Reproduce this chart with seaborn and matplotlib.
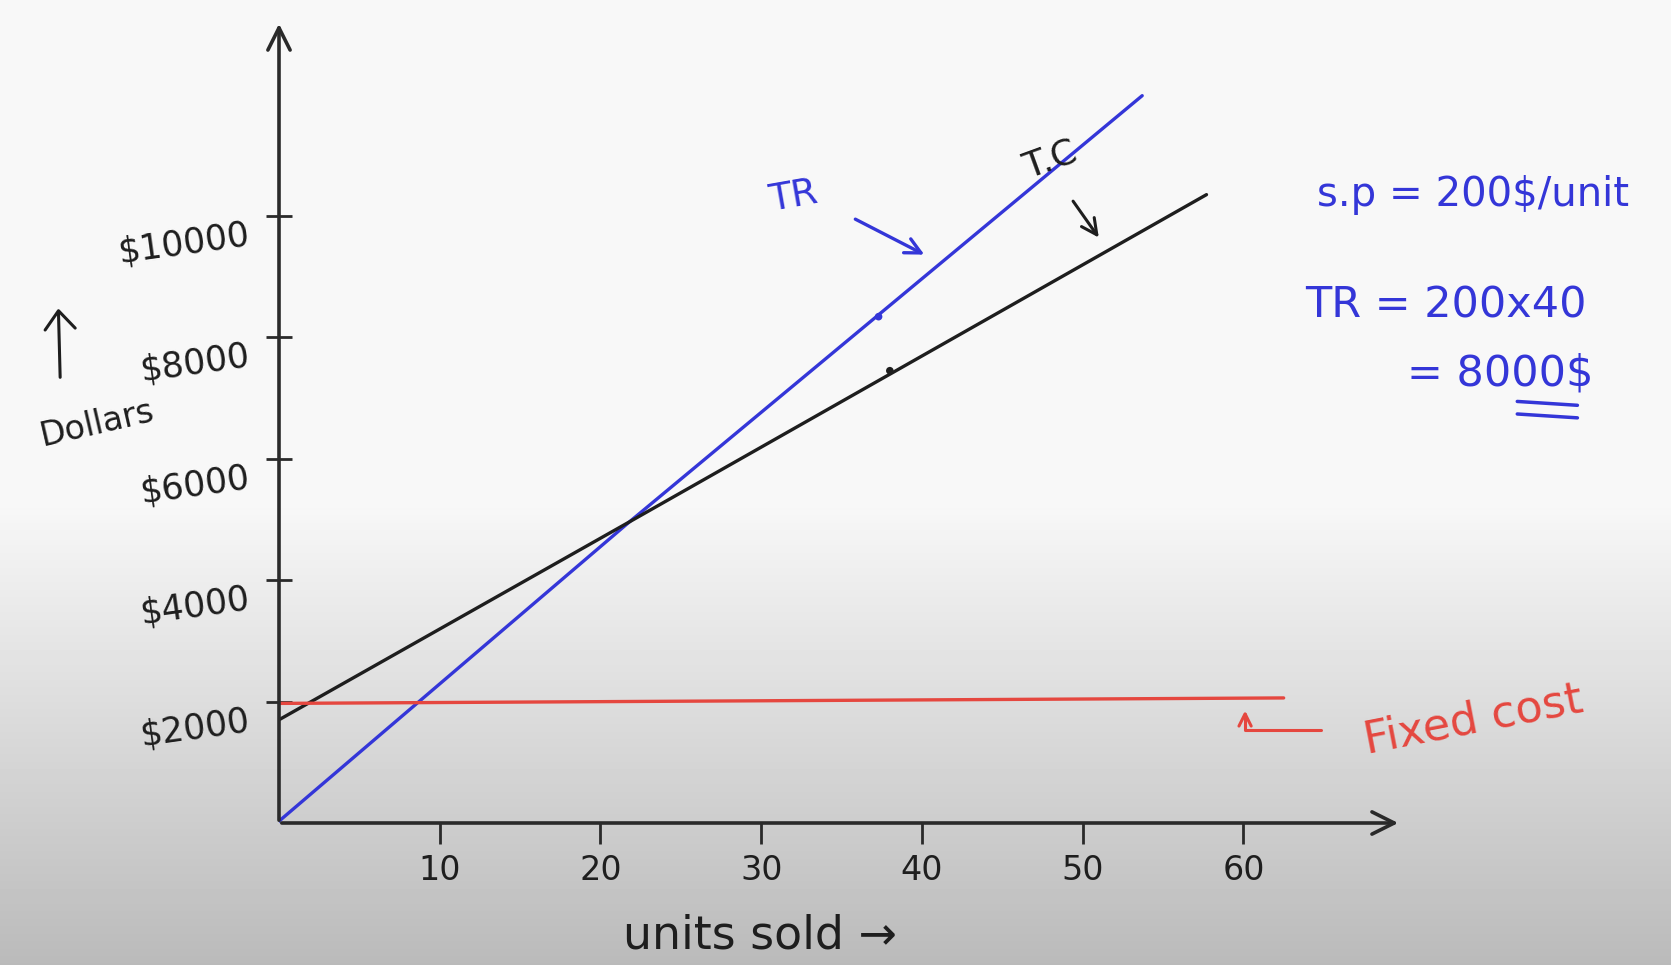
import numpy as np
import pandas as pd
import seaborn as sns
import matplotlib.pyplot as plt
from matplotlib.lines import Line2D
import matplotlib.transforms as mtransforms

# values
units_tr = [0, 21.8, 53.7]
dollars_tr = [30, 4960, 11980]
units_tc = [0, 21.8, 57.7]
dollars_tc = [1700, 4960, 10350]
units_fc = [0, 62.5]
dollars_fc = [1970, 2060]
mark_units = [37.3, 38.0]
mark_dollars = [8340, 7450]
mark_series = ['TR', 'TC']

x_ticks = [10, 20, 30, 40, 50, 60]
y_ticks = [2000, 4000, 6000, 8000, 10000]
y_tick_labels = ['$2000', '$4000', '$6000', '$8000', '$10000']

blue = '#3436d8'
ink = '#1e1e1e'
red = '#e5473f'

df = pd.concat([
    pd.DataFrame({'units': units_tr, 'dollars': dollars_tr, 'series': 'TR'}),
    pd.DataFrame({'units': units_tc, 'dollars': dollars_tc, 'series': 'TC'}),
    pd.DataFrame({'units': units_fc, 'dollars': dollars_fc, 'series': 'FC'}),
])
marks = pd.DataFrame({'units': mark_units, 'dollars': mark_dollars, 'series': mark_series})
pal = {'TR': blue, 'TC': ink, 'FC': red}

sns.set_theme(style='white')
plt.rcParams['font.family'] = ['DejaVu Sans']

fig = plt.figure(figsize=(16.71, 9.65), dpi=100)

# screenshot background: white top fading to grey at the bottom
rows = np.arange(965)
shade = np.where(rows < 500, 248, 248 - (rows - 500) / 465 * 62)
grad = np.tile(shade[:, None], (1, 10))
bg = fig.add_axes([0, 0, 1, 1], zorder=0)
bg.imshow(grad, aspect='auto', cmap='gray', vmin=0, vmax=255)
bg.axis('off')

ax = fig.add_axes([279 / 1671, 142 / 965, 1122 / 1671, 802 / 965], zorder=1)
ax.set_facecolor('none')
sns.lineplot(data=df, x='units', y='dollars', hue='series', palette=pal,
             linewidth=2.4, legend=False, sort=False, ax=ax, estimator=None)
sns.scatterplot(data=marks, x='units', y='dollars', hue='series', palette=pal,
                s=30, legend=False, ax=ax, edgecolor='none')
ax.set_xlim(0, 69.8)
ax.set_ylim(0, 13210)
for s in ax.spines.values():
    s.set_visible(False)

# hand-drawn axes with arrow heads
arrow_kw = dict(arrowstyle='->', lw=2.6, color='#2a2a2a', mutation_scale=40)
ax.annotate('', xy=(1, 0), xytext=(0, 0), xycoords='axes fraction', arrowprops=arrow_kw)
ax.annotate('', xy=(0, 1), xytext=(0, 0), xycoords='axes fraction', arrowprops=arrow_kw)

ax.set_xticks(x_ticks)
ax.set_xticklabels([str(t) for t in x_ticks], fontsize=24, color=ink)
ax.set_yticks(y_ticks)
ax.set_yticklabels(y_tick_labels, fontsize=25, color=ink, rotation=8)
ax.tick_params(axis='x', bottom=True, direction='out', length=15, width=2,
               color='#2a2a2a', pad=7)
ax.tick_params(axis='y', left=True, direction='inout', length=19, width=2,
               color='#2a2a2a', pad=10)
shift = mtransforms.ScaledTranslation(0, -0.15, fig.dpi_scale_trans)
for lab in ax.get_yticklabels():
    lab.set_transform(lab.get_transform() + shift)
ax.set_xlabel('')
ax.set_ylabel('')

# annotations on the lines
ax.text(32.0, 10313, 'TR', color=blue, fontsize=27, ha='center', va='center', rotation=10)
ax.annotate('', xy=(40.3, 9341), xytext=(35.7, 9967),
            arrowprops=dict(arrowstyle='->', lw=2.4, color=blue, mutation_scale=28))
ax.text(48.0, 10923, 'T.C', color=ink, fontsize=26, ha='center', va='center', rotation=20)
ax.annotate('', xy=(51.1, 9605), xytext=(49.3, 10280),
            arrowprops=dict(arrowstyle='->', lw=2.2, color=ink, mutation_scale=28))
ax.annotate('', xy=(60.1, 1900), xytext=(65.0, 1530),
            arrowprops=dict(arrowstyle='->', lw=2.2, color=red, mutation_scale=22,
                            connectionstyle='angle,angleA=0,angleB=90,rad=0'))
ax.text(67.3, 1700, 'Fixed cost', color=red, fontsize=32, ha='left', va='center',
        rotation=11, clip_on=False)

# side notes
fig.text(0.788, 0.798, 's.p = 200$/unit', color=blue, fontsize=29, ha='left', va='center')
fig.text(0.781, 0.683, 'TR = 200x40', color=blue, fontsize=31, ha='left', va='center')
fig.text(0.842, 0.613, '= 8000$', color=blue, fontsize=31, ha='left', va='center')
for yy in (0.580, 0.567):
    fig.add_artist(Line2D([0.908, 0.944], [yy + 0.004, yy], color=blue, lw=2.5))

fig.text(0.058, 0.561, 'Dollars', color=ink, fontsize=24, ha='center', va='center', rotation=13)
fig.add_artist(Line2D([0.036, 0.035], [0.609, 0.676], color=ink, lw=2.2))
fig.add_artist(Line2D([0.027, 0.035, 0.045], [0.658, 0.678, 0.660], color=ink, lw=2.2))
fig.text(0.455, 0.030, 'units sold \u2192', color=ink, fontsize=33, ha='center', va='center')

plt.savefig('out.png', dpi=100)
plt.close()
